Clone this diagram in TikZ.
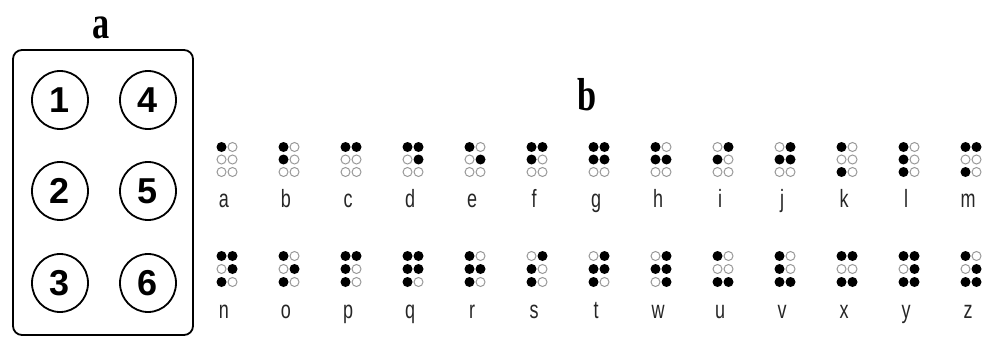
\documentclass[tikz,border=0pt]{standalone}
\usepackage{fontspec}
\setmainfont{Liberation Serif}
\setsansfont{Liberation Sans}
\usetikzlibrary{shapes.geometric}

\begin{document}
\begin{tikzpicture}[
    x=1pt, y=-1pt,
    panel/.style={anchor=base, inner sep=0, font=\fontsize{44}{44}\selectfont\bfseries, xscale=0.78, yscale=1.05},
    keypad/.style={rectangle, draw, line width=1.8pt, rounded corners=9pt, minimum width=180pt, minimum height=285pt},
    dotnum/.style={ellipse, draw, line width=1.8pt, minimum width=56pt, minimum height=58pt, inner sep=0, font=\fontsize{36}{36}\selectfont\sffamily\bfseries},
    fulldot/.style={circle, fill=black, inner sep=0, minimum size=10pt},
    emptydot/.style={circle, draw=black!40, line width=1pt, inner sep=0, minimum size=9pt},
    letter/.style={anchor=base, inner sep=0, font=\fontsize{25}{25}\selectfont\sffamily, text=black!85, xscale=0.72}
  ]
    \useasboundingbox (0,0) rectangle (984,337);

    % Panel a - numbered cell
    \node[panel] (title-a) at (101,38) {a};
    \node[keypad] (frame) at (103,192.5) {};
    \foreach \n/\cx/\cy in {1/60/100, 2/60/191, 3/60/283, 4/148/100, 5/148/191, 6/148/283}
      \node[dotnum] (num-\n) at (\cx,\cy) {\n};

    % Panel b - alphabet
    \node[panel] (title-b) at (587,110) {b};

    % top row
    \foreach \ch/\pat [count=\i from 0] in {
        a/{1,0,0,0,0,0}, b/{1,1,0,0,0,0}, c/{1,0,0,1,0,0}, d/{1,0,0,1,1,0},
        e/{1,0,0,0,1,0}, f/{1,1,0,1,0,0}, g/{1,1,0,1,1,0}, h/{1,1,0,0,1,0},
        i/{0,1,0,1,0,0}, j/{0,1,0,1,1,0}, k/{1,0,1,0,0,0}, l/{1,1,1,0,0,0},
        m/{1,0,1,1,0,0}} {
      \foreach \d [count=\k from 0] in \pat {
        \pgfmathsetmacro\dx{227+62*\i-5.5+11*int(\k/3)}
        \pgfmathsetmacro\dy{147+12.5*mod(\k,3)}
        \ifnum\d=1
          \node[fulldot] (\ch-\k) at (\dx,\dy) {};
        \else
          \node[emptydot] (\ch-\k) at (\dx,\dy) {};
        \fi
      }
      \node[letter] (lbl-\ch) at (224+62*\i,207) {\ch};
    }

    % bottom row
    \foreach \ch/\pat [count=\i from 0] in {
        n/{1,0,1,1,1,0}, o/{1,0,1,0,1,0}, p/{1,1,1,1,0,0}, q/{1,1,1,1,1,0},
        r/{1,1,1,0,1,0}, s/{0,1,1,1,0,0}, t/{0,1,1,1,1,0}, w/{0,1,0,1,1,1},
        u/{1,0,1,0,0,1}, v/{1,1,1,0,0,1}, x/{1,0,1,1,0,1}, y/{1,0,1,1,1,1},
        z/{1,0,1,0,1,1}} {
      \foreach \d [count=\k from 0] in \pat {
        \pgfmathsetmacro\dx{227+62*\i-5.5+11*int(\k/3)}
        \pgfmathsetmacro\dy{256+13*mod(\k,3)}
        \ifnum\d=1
          \node[fulldot] (\ch-\k) at (\dx,\dy) {};
        \else
          \node[emptydot] (\ch-\k) at (\dx,\dy) {};
        \fi
      }
      \node[letter] (lbl-\ch) at (224+62*\i,318) {\ch};
    }

\end{tikzpicture}
\end{document}
